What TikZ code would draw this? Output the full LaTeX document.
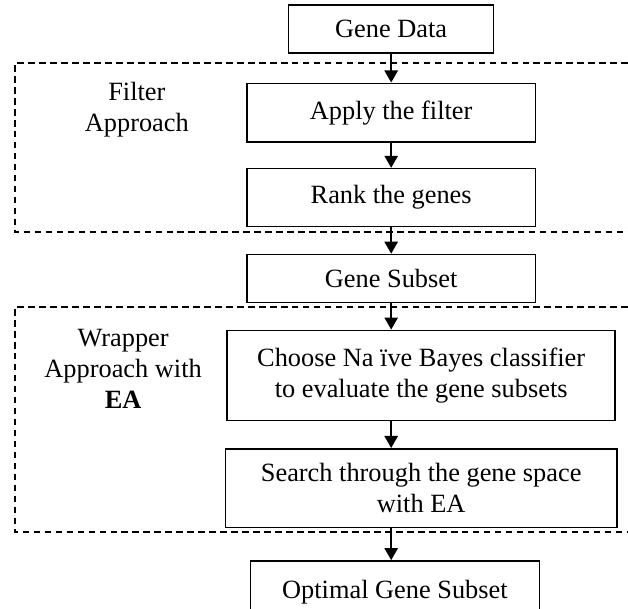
\documentclass[tikz,border=0pt]{standalone}
\usepackage{fontspec}
\setmainfont{Liberation Serif}
\usepackage{tikz}
\usetikzlibrary{arrows.meta,positioning}

\begin{document}
\begin{tikzpicture}[
    every node/.style={align=center, font=\fontsize{12}{14}\selectfont},
    box/.style={draw, line width=0.7pt, minimum width=4.62cm},
    region/.style={draw, dashed, line width=0.7pt, dash pattern=on 3pt off 2pt},
    arr/.style={-{Triangle[length=5.5pt,width=6pt]}, line width=1pt},
]
\useasboundingbox (0,0) rectangle (10.05,-9.744);

% Grouping frames (open to the right)
\draw[region] (10.4,-1.008) -| (0.24,-3.712) -- (10.4,-3.712);
\draw[region] (10.4,-4.912) -| (0.24,-8.512) -- (10.4,-8.512);

% Nodes
\node (gd) [box, minimum width=3.28cm, minimum height=0.77cm] at (6.26,-0.464) {Gene Data};
\node (ap) [box, below=0.46cm of gd, minimum height=0.94cm] {Apply the filter};
\node (rk) [box, below=0.4cm of ap, minimum height=0.93cm] {Rank the genes};
\node (sub) [box, below=0.42cm of rk, minimum height=0.77cm] {Gene Subset};
\node (ch) [box, below=0.42cm of sub, xshift=0.48cm, minimum width=6.21cm, minimum height=1.44cm] {Choose Na ïve Bayes classifier\\to evaluate the gene subsets};
\node (se) [box, below=0.43cm of ch, minimum width=6.26cm, minimum height=1.26cm] {Search through the gene space\\with EA};
\node (op) [box, below=0.51cm of se, xshift=-0.42cm, minimum height=1.0cm] {Optimal Gene Subset};

% Side labels
\node (flt) at (2.19,-1.76) {Filter\\Approach};
\node (wrp) at (1.97,-5.9) {Wrapper\\Approach with\\\textbf{EA}};

% Arrows
\draw[arr] (gd) -- (ap);
\draw[arr] (ap) -- (rk);
\draw[arr] (rk) -- (sub);
\draw[arr] (sub) -- (sub.south |- ch.north);
\draw[arr] (ch.south -| sub.south) -- (se.north -| sub.south);
\draw[arr] (se.south -| sub.south) -- (op.north -| sub.south);
\end{tikzpicture}
\end{document}
